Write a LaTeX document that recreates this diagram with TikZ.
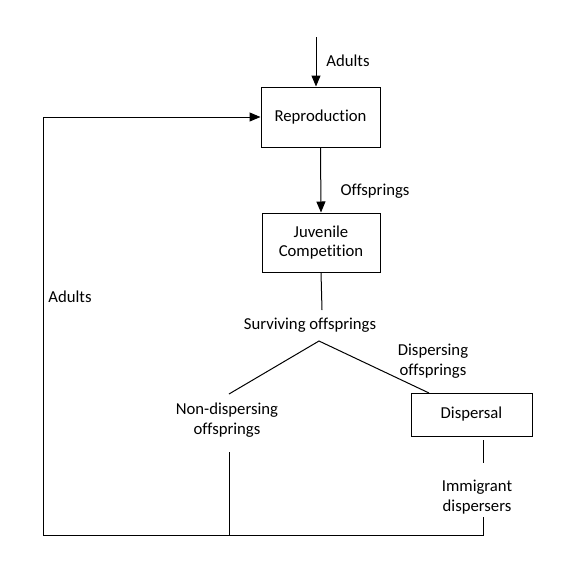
\documentclass[tikz,border=0pt]{standalone}
\usepackage{fontspec}
\setmainfont{Carlito}[Ligatures=NoCommon]
\usetikzlibrary{arrows.meta}
\begin{document}
\begin{tikzpicture}[x=1pt,y=-1pt, font=\fontsize{16.7}{19.5}\selectfont, line width=1pt,
  box/.style={draw, inner sep=0pt, align=center},
  lbl/.style={align=center, inner sep=0pt},
  arr/.style={-{Triangle[length=11pt,width=9pt]}}]
\useasboundingbox (0,0) rectangle (581,574);
% boxes
\node[box, minimum width=119pt, minimum height=60pt] (rep) at (320.5,117) {Reproduction};
\node[box, minimum width=118pt, minimum height=59pt] (juv) at (321,242.5) {Juvenile\\Competition};
\node[box, minimum width=121pt, minimum height=43pt] (dis) at (471.5,414.5) {Dispersal};
% labels
\node[lbl] (ladtop) at (348,61) {Adults};
\node[lbl] (loff) at (375,191) {Offsprings};
\node[lbl] (ladl) at (70,297) {Adults};
\node[lbl] (lsurv) at (310,325) {Surviving offsprings};
\node[lbl] (ldisp) at (433,361) {Dispersing\\offsprings};
\node[lbl] (lnon) at (227,420) {Non-dispersing\\offsprings};
\node[lbl] (limm) at (477,497) {Immigrant\\dispersers};
% coordinates
\coordinate (top) at (316,37);
\coordinate (s1) at (322,310);
\coordinate (apex) at (319,341);
\coordinate (nl) at (229,394);
\coordinate (dr) at (429,393);
\coordinate (n1) at (229,452);
\coordinate (n2) at (229,535);
\coordinate (d1) at (483,440);
\coordinate (d2) at (483,463);
\coordinate (d3) at (483,517);
\coordinate (br) at (483,535);
\coordinate (bl) at (43,535);
% connectors
\draw[arr] (top) -- (top |- rep.north);
\draw[arr] (rep.south) -- (juv.north);
\draw (juv.south) -- (s1);
\draw (nl) -- (apex) -- (dr);
\draw (n1) -- (n2);
\draw (d1) -- (d2);
\draw[arr] (d3) -- (br) -- (bl) -- (bl |- rep.west) -- (rep.west);
\end{tikzpicture}
\end{document}
